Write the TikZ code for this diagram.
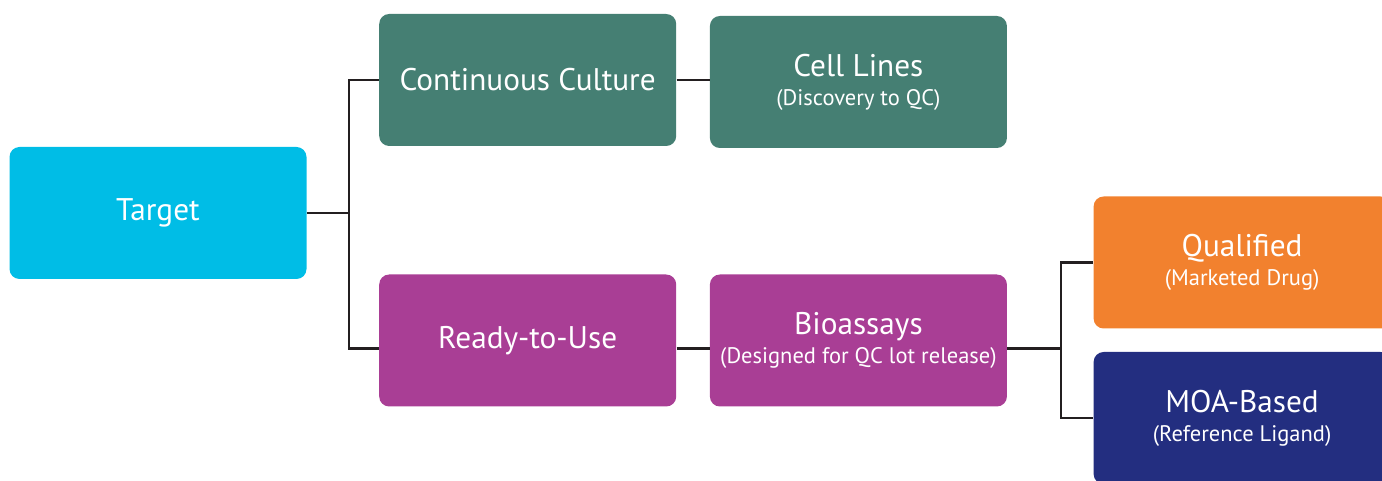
\documentclass[tikz,border=0pt]{standalone}
\usepackage{fontspec}
\setmainfont{PT Sans}
\usetikzlibrary{positioning}

\definecolor{targetblue}{RGB}{0,189,230}
\definecolor{cultureteal}{RGB}{69,127,115}
\definecolor{readypurple}{RGB}{169,62,149}
\definecolor{qualorange}{RGB}{242,129,46}
\definecolor{moanavy}{RGB}{35,46,128}
\definecolor{linkgray}{RGB}{35,31,32}

\newcommand{\subline}[1]{{\fontsize{12.8}{15}\selectfont #1}}

\begin{document}
\begin{tikzpicture}[
    node distance=0.66cm,
    box/.style={rectangle, rounded corners=0.2cm, minimum width=5.94cm, minimum height=2.64cm, text=white, align=center, font=\fontsize{17.8}{16.5}\selectfont},
    link/.style={draw=linkgray, line width=1.3pt}
]

% Page frame
\useasboundingbox (0,0) rectangle (27.64,-9.62);
\clip (0,0) rectangle (27.64,-9.62);

% Target
\node[box, fill=targetblue] (target) at (3.16,-4.26) {Target};

% Culture branch
\node[box, fill=cultureteal, right=1.44cm of target, yshift=2.66cm] (culture) {Continuous Culture};
\node[box, fill=cultureteal, right=of culture, yshift=-0.04cm] (cells) {Cell Lines\\\subline{(Discovery to QC)}};

% Ready-to-use branch
\node[box, fill=readypurple, right=1.44cm of target, yshift=-2.55cm] (ready) {Ready-to-Use};
\node[box, fill=readypurple, right=of ready] (bioassay) {Bioassays\\\subline{(Designed for QC lot release)}};

% Bioassay outcomes
\node[box, fill=qualorange, right=1.72cm of bioassay, yshift=1.56cm] (qualified) {Qualified\\\subline{(Marketed Drug)}};
\node[box, fill=moanavy, right=1.72cm of bioassay, yshift=-1.55cm] (moa) {MOA-Based\\\subline{(Reference Ligand)}};

% Connectors
\draw[link] (target.east) -- ++(0.84,0) |- (culture.west);
\draw[link] (target.east) -- ++(0.84,0) |- ([yshift=-0.16cm]ready.west);
\draw[link] (culture.east) -- (culture.east -| cells.west);
\draw[link] ([yshift=-0.16cm]ready.east) -- ([yshift=-0.16cm]bioassay.west);
\draw[link] ([yshift=-0.16cm]bioassay.east) -- ++(1.08,0) |- (qualified.west);
\draw[link] ([yshift=-0.16cm]bioassay.east) -- ++(1.08,0) |- (moa.west);

\end{tikzpicture}
\end{document}
